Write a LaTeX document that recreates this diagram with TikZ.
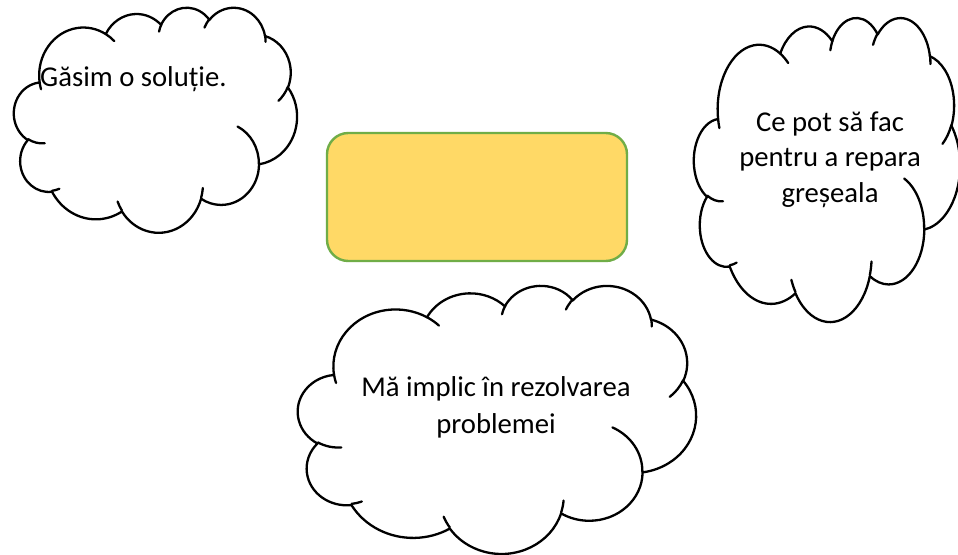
\documentclass[tikz,border=0pt]{standalone}
\usepackage{fontspec}
\setmainfont{Carlito}
\definecolor{boxfill}{HTML}{FFD966}
\definecolor{boxline}{HTML}{70AD47}
\tikzset{
  cloudline/.style={line width=2.3pt, line join=round, line cap=round, black},
  txt/.style={font=\fontsize{28.7}{35.5}\selectfont, inner sep=0pt},
  panel/.style={draw=boxline, fill=boxfill, line width=2.4pt, rounded corners=21.3pt,
    minimum width=300pt, minimum height=128pt, inner sep=0pt}
}
% Cloud outline after the Office "cloud" preset. Lengths are hundredths of
% the 43200-unit path box (so the box is 432 wide), angles are in degrees,
% measured on the unscaled ellipse with y pointing down; the result is then
% stretched to the cloud's box.
\newcommand\setcloudbox[4]{\def\cbx{#1}\def\cby{#2}\def\cbw{#3}\def\cbh{#4}}
\newcommand\cloudmove[2]{%
  \pgfmathsetmacro\cmx{\cbx+#1/432*\cbw}%
  \pgfmathsetmacro\cmy{\cby+#2/432*\cbh}%
  \xdef\cloudtoks{\cloudtoks (\cmx,\cmy)}}
\newcommand\cloudarc[4]{%
  \pgfmathsetmacro\carx{#1/432*\cbw}%
  \pgfmathsetmacro\cary{#2/432*\cbh}%
  \pgfmathsetmacro\cats{atan2(sin(#3)*#1, cos(#3)*#2)}%
  \pgfmathsetmacro\cate{atan2(sin(#3+#4)*#1, cos(#3+#4)*#2)}%
  \pgfmathsetmacro\cad{0-mod((\cate)-(\cats)+720,360)}%
  \pgfmathsetmacro\cas{0-(\cats)}%
  \xdef\cloudtoks{\cloudtoks arc[start angle=\cas, delta angle=\cad, x radius=\carx pt, y radius=\cary pt]}}
% #1,#2: top left corner, #3,#4: width and height
\newcommand\drawcloud[4]{%
  \setcloudbox{#1}{#2}{#3}{#4}%
  \gdef\cloudtoks{}%
  \cloudmove{39.00}{143.70}%
  \cloudarc{67.53}{91.90}{-190.487483}{123.780533}%
  \cloudarc{53.33}{72.67}{-144.102383}{89.945233}%
  \cloudarc{43.65}{59.45}{-145.807917}{99.723017}%
  \cloudarc{48.57}{65.95}{-130.986067}{117.241733}%
  \cloudarc{53.33}{72.73}{-78.708883}{109.026917}%
  \cloudarc{67.75}{92.20}{-46.26725}{130.269}%
  \cloudarc{57.85}{78.67}{0.625017}{114.033333}%
  \cloudarc{67.52}{92.15}{22.4516}{115.17255}%
  \cloudarc{77.20}{105.43}{66.242633}{75.711017}%
  \cloudarc{43.60}{59.18}{-274.942083}{146.735567}%
  \cloudarc{43.45}{59.45}{-246.8285}{152.51885}%
  \path[cloudline, draw, fill=white] \cloudtoks -- cycle;
  % inner creases
  \gdef\cloudtoks{}%
  \cloudmove{46.93}{261.77}\cloudarc{43.45}{59.45}{86.742}{26.4295}%
  \cloudmove{69.28}{348.99}\cloudarc{43.60}{59.18}{73.610467}{11.447467}%
  \cloudmove{164.78}{390.90}\cloudarc{67.52}{92.15}{137.62415}{14.0811}%
  \cloudmove{288.27}{347.51}\cloudarc{67.52}{92.15}{6.453267}{15.99835}%
  \cloudmove{341.29}{229.54}\cloudarc{57.85}{78.67}{-70.29235}{70.917367}%
  \cloudmove{417.98}{153.54}\cloudarc{53.33}{72.73}{30.318033}{27.7515}%
  \cloudmove{383.24}{54.26}\cloudarc{48.57}{65.95}{-13.744333}{14.8589}%
  \cloudmove{290.78}{39.52}\cloudarc{48.57}{65.95}{-149.18145}{18.195367}%
  \cloudmove{221.41}{47.20}\cloudarc{43.65}{59.45}{-163.494267}{17.68635}%
  \cloudmove{140.00}{51.92}\cloudarc{67.53}{91.90}{-66.70695}{12.31935}%
  \cloudmove{41.27}{157.89}\cloudarc{67.53}{91.90}{157.65435}{11.858167}%
  \path[cloudline, draw] \cloudtoks;
}
\begin{document}
\begin{tikzpicture}[x=1pt, y=-1pt]
  \useasboundingbox[fill=white] (0,0) rectangle (958,554);
  % the three clouds
  \drawcloud{14}{7}{283}{225}
  \drawcloud{694}{17}{266}{304}
  \drawcloud{298}{285}{398}{268}
  % central panel
  \node[panel] (box) at (477,197) {};
  % texts
  \node[txt, anchor=base west] (t1) at (40,86) {Găsim o soluție.};
  \node[txt, anchor=base] (t2a) at (830,131) {Ce pot să fac};
  \node[txt, anchor=base] (t2b) at (830,166.5) {pentru a repara};
  \node[txt, anchor=base] (t2c) at (830,202) {greșeala};
  \node[txt, anchor=base] (t3a) at (496,396.5) {Mă implic în rezolvarea};
  \node[txt, anchor=base] (t3b) at (496,433) {problemei};
\end{tikzpicture}
\end{document}
